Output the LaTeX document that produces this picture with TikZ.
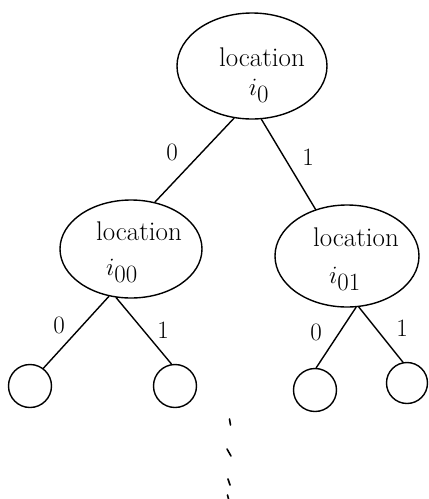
\documentclass[tikz,border=0pt]{standalone}
\usetikzlibrary{shapes.geometric}
\begin{document}
\begin{tikzpicture}[x=1pt,y=-1pt,
  ink/.style={line width=1.4pt,black},
  bigell/.style={ink,draw,ellipse,inner sep=0pt},
  leaf/.style={ink,draw,circle,inner sep=0pt,minimum size=43pt},
  txt/.style={inner sep=0pt,font=\fontsize{27}{30}\selectfont},
  itxt/.style={inner sep=0pt,font=\fontsize{33}{36}\selectfont},
  lab/.style={inner sep=0pt,font=\fontsize{25}{28}\selectfont},
  edge/.style={ink,line cap=round}]
\useasboundingbox (0,0) rectangle (429,499);
% ellipses
\node[bigell,minimum width=150pt,minimum height=106pt] (n0) at (252,66) {};
\node[bigell,minimum width=142pt,minimum height=98pt] (n00) at (131,249) {};
\node[bigell,minimum width=144pt,minimum height=102pt] (n01) at (347,256) {};
% texts
\node[txt] (l0) at (262,57) {location};
\node[itxt] (i0) at (259,91) {$i_0$};
\node[txt] (l00) at (139,231) {location};
\node[itxt] (i00) at (122,271) {$i_{00}$};
\node[txt] (l01) at (356,237) {location};
\node[itxt] (i01) at (345,279) {$i_{01}$};
% leaves
\node[leaf] (c1) at (30,386) {};
\node[leaf] (c2) at (175,386) {};
\node[leaf] (c3) at (315,390) {};
\node[leaf,minimum size=41pt] (c4) at (407,383) {};
% edges
\draw[edge] (n0.-109) -- (n00.63);
\draw[edge] (n0.-80) -- (n01.124);
\draw[edge] (n00.-115) -- (c1.53);
\draw[edge] (n00.-107) -- (c2.99);
\draw[edge] (n01.-80) -- (c3.87);
\draw[edge] (n01.-77) -- (c4.101);
% edge labels
\node[lab] (e1) at (172,152) {0};
\node[lab] (e2) at (308,157) {1};
\node[lab] (e3) at (59,325) {0};
\node[lab] (e4) at (163,330) {1};
\node[lab] (e5) at (316,332) {0};
\node[lab] (e6) at (402,328) {1};
% continuation dots
\coordinate (d1a) at (229.5,419); \coordinate (d1b) at (230.5,425);
\coordinate (d2a) at (227,449);   \coordinate (d2b) at (231,456);
\coordinate (d3a) at (228,479);   \coordinate (d3b) at (230,485);
\coordinate (d4a) at (227.5,495); \coordinate (d4b) at (228.5,499);
\draw[edge,line width=1.6pt] (d1a) -- (d1b);
\draw[edge,line width=1.6pt] (d2a) -- (d2b);
\draw[edge,line width=1.6pt] (d3a) -- (d3b);
\draw[edge,line width=1.6pt] (d4a) -- (d4b);
\end{tikzpicture}
\end{document}
